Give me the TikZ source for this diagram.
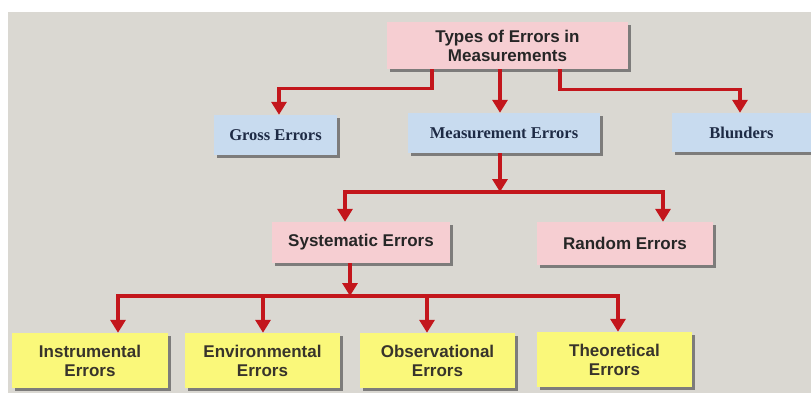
\documentclass[tikz,border=0pt]{standalone}
\usepackage{fontspec}
\setmainfont{Liberation Sans}
\newfontfamily\serifb{Liberation Serif}
\usetikzlibrary{arrows.meta,shadows}
\definecolor{bg}{HTML}{DAD8D2}
\definecolor{pinkbox}{HTML}{F6CED2}
\definecolor{bluebox}{HTML}{C8DBEF}
\definecolor{yellowbox}{HTML}{FAF87A}
\definecolor{arrowred}{HTML}{C3161C}
\definecolor{navytext}{HTML}{1E2B45}
\tikzset{
  box/.style={rectangle, inner sep=0pt, align=center,
    drop shadow={shadow xshift=3pt, shadow yshift=-3pt, fill=black!60, opacity=0.8}},
  pinkb/.style={box, fill=pinkbox, font=\bfseries\fontsize{17}{19}\selectfont, text=black!85},
  blueb/.style={box, fill=bluebox, font=\serifb\bfseries\fontsize{16.5}{19}\selectfont, text=navytext},
  yellowb/.style={box, fill=yellowbox, font=\bfseries\fontsize{17}{19}\selectfont, text=black!80!olive},
  link/.style={draw=arrowred, line width=3.3pt},
  arr/.style={link, -{Triangle[width=15pt,length=13pt]}},
}
\begin{document}
\begin{tikzpicture}[x=1pt,y=-1pt]
\useasboundingbox (0,0) rectangle (811,393);
\fill[white] (0,0) rectangle (811,393);
\fill[bg] (8,12) rectangle (811,393);

% level 1
\node[pinkb, minimum width=241pt, minimum height=47pt] (top) at (507.5,45.5) {Types of Errors in\\Measurements};

% level 2
\node[blueb, minimum width=123pt, minimum height=40pt] (gross) at (275.5,135) {Gross Errors};
\node[blueb, minimum width=192pt, minimum height=40pt] (meas) at (504,133) {Measurement Errors};
\node[blueb, minimum width=139pt, minimum height=39pt] (blund) at (741.5,132.5) {Blunders};

% level 3
\node[pinkb, minimum width=178pt, minimum height=41pt] (sys) at (361,242.5) {Systematic Errors};
\node[pinkb, minimum width=176pt, minimum height=43pt] (rand) at (625,243.5) {Random Errors};

% level 4
\node[yellowb, minimum width=156pt, minimum height=55pt] (instr) at (90,360.5) {Instrumental\\Errors};
\node[yellowb, minimum width=155pt, minimum height=55pt] (env) at (262.5,360.5) {Environmental\\Errors};
\node[yellowb, minimum width=155pt, minimum height=55pt] (obs) at (437.5,360.5) {Observational\\Errors};
\node[yellowb, minimum width=155pt, minimum height=55pt] (theo) at (614.5,359.5) {Theoretical\\Errors};

% connectors level 1 -> 2
\draw[arr] ([xshift=-75.5pt]top.south) -- ++(0,19) -| ([xshift=3.5pt]gross.north);
\draw[arr] ([xshift=-7.5pt]top.south) -- ([xshift=-4pt]meas.north);
\draw[arr] ([xshift=52.5pt]top.south) -- ++(0,20) -| ([xshift=-1.5pt]blund.north);

% connectors level 2 -> 3
\coordinate (j1) at (500,192);
\draw[arr] ([xshift=-4pt]meas.south) -- (j1);
\draw[arr] (j1) -| ([xshift=-16pt]sys.north);
\draw[arr] (j1) -| ([xshift=38pt]rand.north);

% connectors level 3 -> 4
\coordinate (j2) at (350,296);
\draw[arr] ([xshift=-11pt]sys.south) -- (j2);
\draw[arr] (j2) -| ([xshift=28pt]instr.north);
\draw[arr] (j2) -| ([xshift=0.5pt]env.north);
\draw[arr] (j2) -| ([xshift=-10.5pt]obs.north);
\draw[arr] (j2) -| ([xshift=3.5pt]theo.north);
\end{tikzpicture}
\end{document}
